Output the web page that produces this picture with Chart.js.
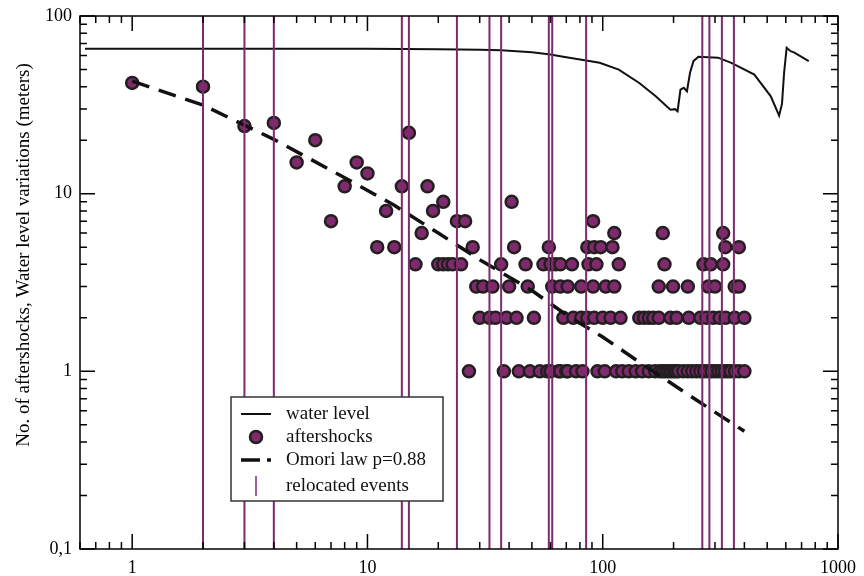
<!DOCTYPE html>
<html lang="en">
<head>
<meta charset="UTF-8" />
<title>Aftershocks and water level</title>
<script src="https://cdn.jsdelivr.net/npm/chart.js@4.4.0/dist/chart.umd.min.js"></script>
<style>
  html, body { margin: 0; padding: 0; background: #fff; }
</style>
</head>
<body>
<canvas id="chart" width="864" height="576"></canvas>
<script>
  // tick labels
  var xTicks = [1, 10, 100, 1000];
  var yTicks = [0.1, 1, 10, 100];

  // water level (meters) against day
  var waterDays = [0.63, 10, 20, 30, 37, 50, 60, 66, 85, 97, 117, 143, 168, 194, 203, 208, 214, 221, 228, 235, 243, 255, 309, 352, 441, 518, 562, 578, 590, 605, 629, 650, 751];
  var waterLevel = [65.5, 65.4, 65, 64.6, 64.1, 62.5, 60.7, 59.4, 56.1, 54.5, 49.9, 42.0, 35.3, 29.7, 29.9, 29.1, 38.5, 39.4, 37.7, 47.9, 55.7, 58.9, 58.3, 54.5, 46.8, 35.3, 27.5, 32, 47.9, 66.2, 63.4, 62.4, 55.7];

  // Omori law curve
  var omoriDays = [1, 2, 4, 8, 13, 20, 30, 50, 70, 100, 150, 250, 400];
  var omoriValues = [43, 31.5, 20.2, 12.3, 8.6, 6.0, 4.25, 2.85, 2.08, 1.56, 1.08, 0.69, 0.46];

  // relocated events (days)
  var relocatedDays = [2, 3, 4, 14, 15, 24, 33, 37, 59, 61, 85, 265, 284, 321, 361];

  // aftershocks: days with 1..5 events, then the rest
  var days1 = [27, 38, 44, 49, 54, 58, 60, 65, 66, 70, 71, 77, 82, 95, 102, 114, 121, 129, 138, 147, 157, 167, 175, 180, 185, 190, 195, 200, 205, 210, 220, 230, 240, 250, 260, 270, 280, 290, 300, 310, 320, 330, 340, 350, 365, 380, 400];
  var days2 = [30, 33, 35, 39, 43, 51, 68, 75, 81, 86, 92, 100, 108, 119, 143, 150, 157, 164, 173, 194, 206, 232, 260, 276, 295, 314, 333, 364, 400];
  var days3 = [29, 31, 34, 40, 48, 61, 66, 71, 81, 91, 103, 112, 173, 199, 230, 281, 300, 364, 379];
  var days4 = [16, 20, 21, 22, 23, 25, 37, 47, 56, 60, 63, 66, 74, 87, 94, 117, 183, 268, 288, 325];
  var days5 = [11, 13, 28, 42, 59, 86, 92, 98, 110, 332, 379];
  var upperDays = [1, 2, 3, 4, 5, 6, 7, 8, 9, 10, 12, 14, 15, 17, 18, 19, 21, 24, 26, 41, 91, 112, 180, 325];
  var upperCounts = [42, 40, 24, 25, 15, 20, 7, 11, 15, 13, 8, 11, 22, 6, 11, 8, 9, 7, 7, 9, 7, 6, 6, 6];

  var yTitle = 'No. of aftershocks, Water level variations (meters)';
  var purple = '#7e2a6c';
  var serif = 'Liberation Serif';

  var shocks = [];
  [days1, days2, days3, days4, days5].forEach(function (list, i) {
    list.forEach(function (d) { shocks.push({ x: d, y: i + 1 }); });
  });
  upperDays.forEach(function (d, i) { shocks.push({ x: d, y: upperCounts[i] }); });

  var water = waterDays.map(function (d, i) { return { x: d, y: waterLevel[i] }; });
  var omori = omoriDays.map(function (d, i) { return { x: d, y: omoriValues[i] }; });

  // one line with gaps: each event goes bottom to top
  var relocated = [];
  relocatedDays.forEach(function (d) {
    relocated.push({ x: d, y: 0.05 }, { x: d, y: 200 }, { x: d, y: null });
  });

  // frame with inward ticks on all four sides, plus the y title
  var frame = {
    id: 'frame',
    afterDatasetsDraw: function (chart) {
      var ctx = chart.ctx, a = chart.chartArea;
      var xs = chart.scales.x, ys = chart.scales.y;
      ctx.save();
      ctx.strokeStyle = '#000';
      ctx.lineWidth = 1.5;
      ctx.strokeRect(a.left, a.top, a.right - a.left, a.bottom - a.top);
      ctx.beginPath();
      for (var e = -1; e <= 3; e++) {
        for (var m = 1; m <= 9; m++) {
          var v = m * Math.pow(10, e);
          var len = m === 1 ? 15 : 7;
          if (v >= xs.min && v <= xs.max) {
            var px = xs.getPixelForValue(v);
            ctx.moveTo(px, a.bottom); ctx.lineTo(px, a.bottom - len);
            ctx.moveTo(px, a.top); ctx.lineTo(px, a.top + len);
          }
          if (v >= ys.min && v <= ys.max) {
            var py = ys.getPixelForValue(v);
            ctx.moveTo(a.left, py); ctx.lineTo(a.left + len, py);
            ctx.moveTo(a.right, py); ctx.lineTo(a.right - len, py);
          }
        }
      }
      ctx.stroke();

      // title sits a bit above the middle of the axis, like the original
      ctx.translate(24, 255);
      ctx.rotate(-Math.PI / 2);
      ctx.fillStyle = '#000';
      ctx.font = '19px "' + serif + '"';
      ctx.textAlign = 'center';
      ctx.textBaseline = 'middle';
      ctx.fillText(yTitle, 0, 0);
      ctx.restore();
    }
  };

  // boxed legend inside the plot
  var legendBox = {
    id: 'legendBox',
    afterDraw: function (chart) {
      var ctx = chart.ctx, a = chart.chartArea;
      var left = a.left + 151, top = a.top + 381, w = 212, h = 104;
      var sx = left + 25, tx = left + 55;
      ctx.save();
      ctx.fillStyle = '#fff';
      ctx.fillRect(left, top, w, h);
      ctx.strokeStyle = '#333';
      ctx.lineWidth = 1.5;
      ctx.strokeRect(left, top, w, h);

      // water level
      ctx.strokeStyle = '#111';
      ctx.lineWidth = 2;
      ctx.beginPath(); ctx.moveTo(sx - 15, top + 17); ctx.lineTo(sx + 15, top + 17); ctx.stroke();
      // aftershocks
      ctx.beginPath(); ctx.arc(sx, top + 40, 6, 0, Math.PI * 2);
      ctx.fillStyle = purple; ctx.fill();
      ctx.lineWidth = 2.5; ctx.strokeStyle = '#231f20'; ctx.stroke();
      // omori
      ctx.strokeStyle = '#111';
      ctx.lineWidth = 3.5;
      ctx.beginPath();
      ctx.moveTo(sx - 15, top + 63); ctx.lineTo(sx + 4, top + 63);
      ctx.moveTo(sx + 11, top + 63); ctx.lineTo(sx + 15, top + 63);
      ctx.stroke();
      // relocated events
      ctx.strokeStyle = purple;
      ctx.lineWidth = 1.5;
      ctx.beginPath(); ctx.moveTo(sx, top + 79); ctx.lineTo(sx, top + 99); ctx.stroke();

      ctx.fillStyle = '#111';
      ctx.font = '19px "' + serif + '"';
      ctx.textBaseline = 'middle';
      ctx.fillText('water level', tx, top + 17);
      ctx.fillText('aftershocks', tx, top + 40);
      ctx.fillText('Omori law p=0.88', tx, top + 63);
      ctx.fillText('relocated events', tx, top + 89);
      ctx.restore();
    }
  };

  new Chart(document.getElementById('chart'), {
    type: 'scatter',
    data: {
      datasets: [
        {
          label: 'relocated events',
          type: 'line',
          data: relocated,
          borderColor: purple,
          borderWidth: 2,
          pointRadius: 0,
          spanGaps: false,
          order: 0
        },
        {
          label: 'Omori law p=0.88',
          type: 'line',
          data: omori,
          borderColor: '#111',
          borderWidth: 3.5,
          borderDash: [18, 10],
          pointRadius: 0,
          order: 1
        },
        {
          label: 'water level',
          type: 'line',
          data: water,
          borderColor: '#111',
          borderWidth: 2,
          pointRadius: 0,
          order: 2
        },
        {
          label: 'aftershocks',
          data: shocks,
          backgroundColor: purple,
          borderColor: '#231f20',
          borderWidth: 2.5,
          pointRadius: 6,
          order: 3
        }
      ]
    },
    options: {
      responsive: false,
      animation: false,
      layout: { padding: { left: 0, right: 21, top: 16, bottom: 0 } },
      plugins: { legend: { display: false }, tooltip: { enabled: false } },
      scales: {
        x: {
          type: 'logarithmic',
          min: 0.629,
          max: 1000,
          grid: { display: false, drawTicks: false },
          border: { display: false },
          afterBuildTicks: function (s) { s.ticks = xTicks.map(function (v) { return { value: v }; }); },
          afterFit: function (s) { s.height = 27; },
          ticks: {
            autoSkip: false,
            maxRotation: 0,
            padding: 8,
            color: '#000',
            font: { family: serif, size: 18 },
            callback: function (v) { return String(v); }
          }
        },
        y: {
          type: 'logarithmic',
          min: 0.1,
          max: 100,
          grid: { display: false, drawTicks: false },
          border: { display: false },
          afterBuildTicks: function (s) { s.ticks = yTicks.map(function (v) { return { value: v }; }); },
          afterFit: function (s) { s.width = 80; s.paddingTop = 0; s.paddingBottom = 0; },
          ticks: {
            autoSkip: false,
            padding: 8,
            color: '#000',
            font: { family: serif, size: 18 },
            callback: function (v) { return v < 1 ? '0,1' : String(v); }
          }
        }
      }
    },
    plugins: [frame, legendBox]
  });
</script>
</body>
</html>
